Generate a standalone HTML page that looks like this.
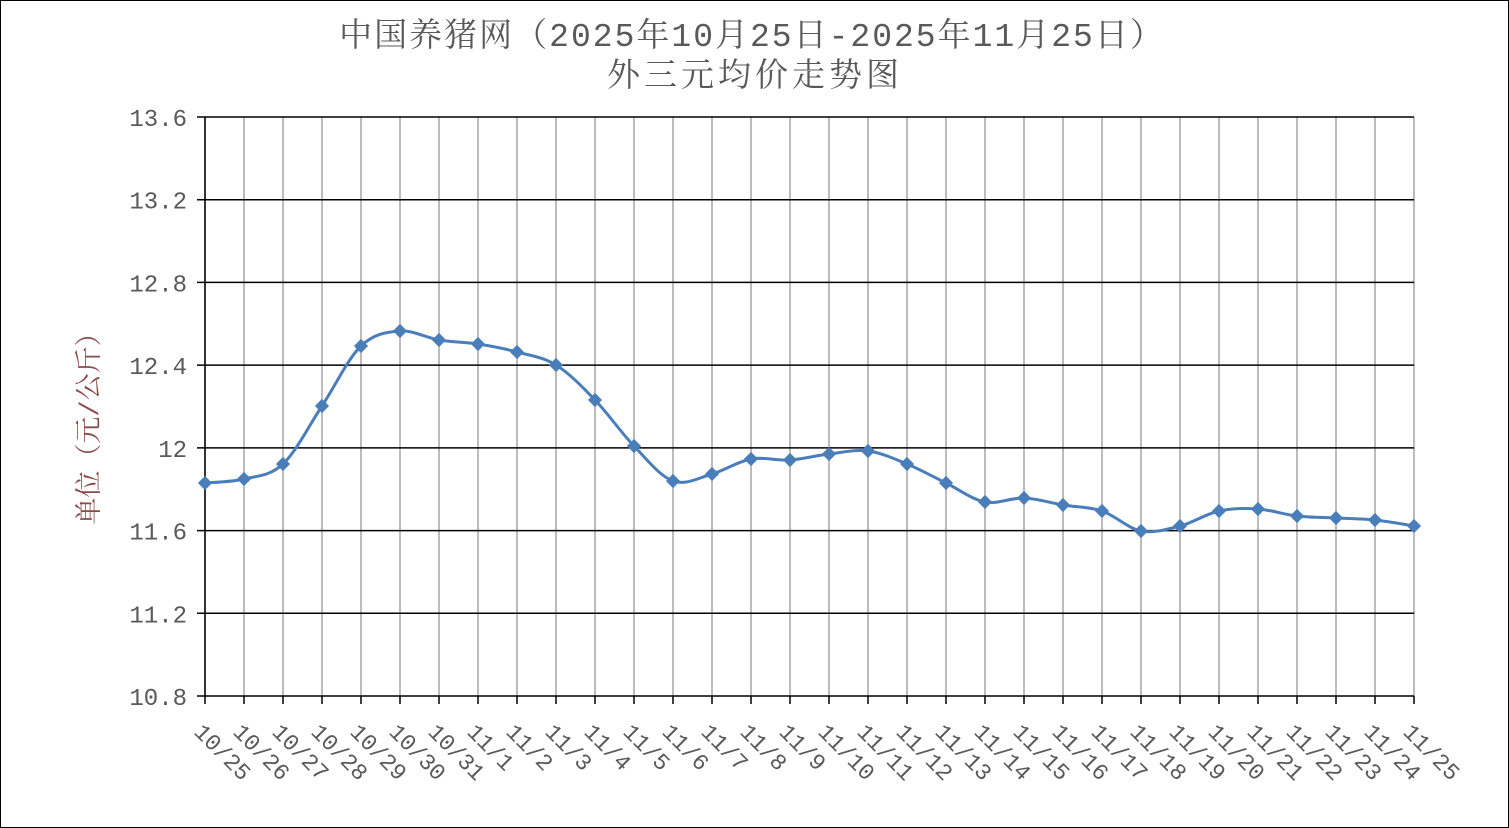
<!DOCTYPE html>
<html><head><meta charset="utf-8"><style>
html,body{margin:0;padding:0;background:#fff;}
svg{display:block;}
text{font-family:"Liberation Mono","Noto Serif CJK SC",serif;fill:#595959;}
</style></head><body>
<svg id="s" width="1509" height="828" viewBox="0 0 1509 828" xmlns="http://www.w3.org/2000/svg">
<rect x="0.5" y="0.5" width="1508" height="827" fill="#fff" stroke="#000" stroke-width="1"/>
<text x="752" y="46" text-anchor="middle" font-size="33" letter-spacing="2">中国养猪网（2025年10月25日-2025年11月25日）</text>
<text x="755" y="86" text-anchor="middle" font-size="33" letter-spacing="4">外三元均价走势图</text>
<text transform="translate(98,422) rotate(-90)" text-anchor="middle" font-size="27" style="fill:#8B4B4B">单位（元/公斤）</text>
<g id="g"></g>
</svg>
<script>
var g=document.getElementById('g'),h='';
var x0=205,x1=1414,n=32,dx=(x1-x0)/31;
var labels=['10/25','10/26','10/27','10/28','10/29','10/30','10/31','11/1','11/2','11/3','11/4','11/5','11/6','11/7','11/8','11/9','11/10','11/11','11/12','11/13','11/14','11/15','11/16','11/17','11/18','11/19','11/20','11/21','11/22','11/23','11/24','11/25'];
var ys=[483,479,464,406,346,331,340,344,352,365,400,446,481,474,459,460,454,451,464,483,502,498,505,511,531,526,511,509,516,518,520,526];
for(var i=0;i<n;i++){var x=x0+i*dx;h+='<line x1="'+x+'" y1="117" x2="'+x+'" y2="696" stroke="#a6a6a6" stroke-width="1.5"/>';}
var yl=['13.6','13.2','12.8','12.4','12','11.6','11.2','10.8'];
for(var k=0;k<8;k++){var y=117+k*(579/7);h+='<line x1="197" y1="'+y+'" x2="1414" y2="'+y+'" stroke="#000" stroke-width="1.5"/>';
h+='<text x="187" y="'+(y+9)+'" text-anchor="end" font-size="24">'+yl[k]+'</text>';}
h+='<line x1="205" y1="117" x2="205" y2="696" stroke="#000" stroke-width="1.5"/>';
for(var i=0;i<n;i++){var x=x0+i*dx;h+='<line x1="'+x+'" y1="696" x2="'+x+'" y2="704" stroke="#000" stroke-width="1.5"/>';
h+='<text transform="translate('+(x-12)+',733) rotate(45)" font-size="23">'+labels[i]+'</text>';}
var P=ys.map(function(y,i){return [x0+i*dx,y];});
var d='M'+P[0][0]+','+P[0][1];
for(var i=0;i<n-1;i++){var p0=P[i-1]||P[i],p1=P[i],p2=P[i+1],p3=P[i+2]||P[i+1];
d+=' C'+(p1[0]+(p2[0]-p0[0])/6)+','+(p1[1]+(p2[1]-p0[1])/6)+' '+(p2[0]-(p3[0]-p1[0])/6)+','+(p2[1]-(p3[1]-p1[1])/6)+' '+p2[0]+','+p2[1];}
h+='<path d="'+d+'" fill="none" stroke="#4a7ebb" stroke-width="3"/>';
P.forEach(function(p){h+='<rect x="'+(p[0]-5)+'" y="'+(p[1]-5)+'" width="10" height="10" fill="#4a7ebb" transform="rotate(45 '+p[0]+' '+p[1]+')"/>';});
g.innerHTML=h;
</script>
</body></html>
